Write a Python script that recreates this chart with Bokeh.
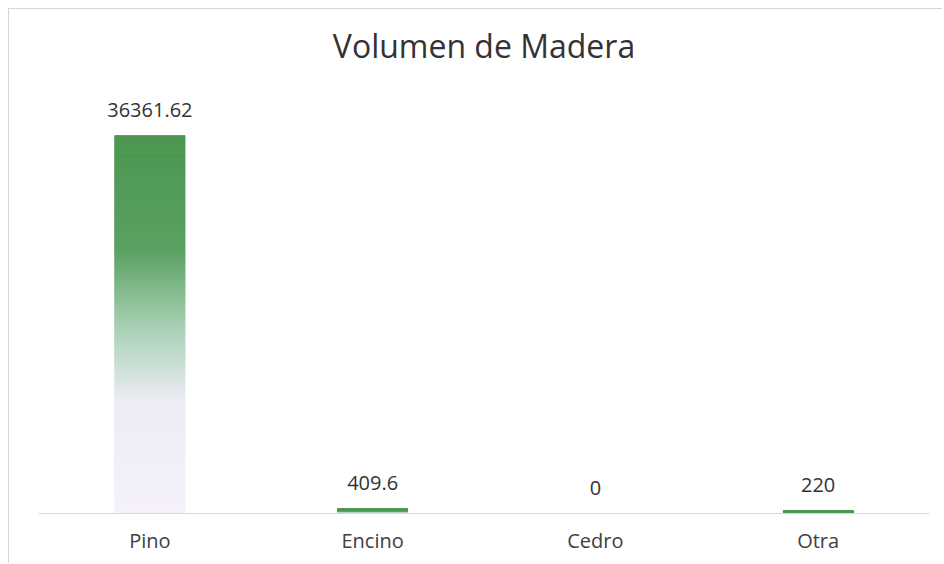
from bokeh.plotting import figure
from bokeh.models import ColumnDataSource, LabelSet, Range1d
from bokeh.core.properties import value
from bokeh.embed import file_html
from bokeh.resources import INLINE

# ---- data ----
categories = ["Pino", "Encino", "Cedro", "Otra"]
values = [36361.62, 409.6, 0, 220]
value_labels = ["36361.62", "409.6", "0", "220"]

# ---- gradient style (top green -> bottom pale lavender) ----
stops = [(0.0, (245, 241, 250)), (0.3, (236, 236, 244)), (0.5, (165, 207, 178)),
         (0.7, (90, 160, 97)), (1.0, (76, 151, 81))]

def grad(t):
    for (t0, c0), (t1, c1) in zip(stops[:-1], stops[1:]):
        if t0 <= t <= t1:
            f = (t - t0) / (t1 - t0)
            r, g, b = [int(round(a + (bb - a) * f)) for a, bb in zip(c0, c1)]
            return "#%02x%02x%02x" % (r, g, b)
    return "#%02x%02x%02x" % stops[-1][1]

N = 160
seg_x, seg_b, seg_t, seg_c = [], [], [], []
for cat, v in zip(categories, values):
    if v <= 0:
        continue
    for i in range(N):
        seg_x.append(cat)
        seg_b.append(v * i / N)
        seg_t.append(v * (i + 1) / N)
        seg_c.append(grad((i + 0.5) / N))

FONT = "Open Sans"

p = figure(x_range=categories, y_range=Range1d(0, max(values) * 1.175),
           width=934, height=555, output_backend="svg", toolbar_location=None,
           min_border_left=29, min_border_right=14, min_border_bottom=51,
           min_border_top=60)
p.styles = {"margin-left": "8px", "margin-top": "8px",
            "border-left": "1px solid #d6d6d6", "border-top": "1px solid #d6d6d6"}

p.vbar(x=seg_x, bottom=seg_b, top=seg_t, width=0.315, fill_color=seg_c,
       line_color=seg_c, line_width=1)

src = ColumnDataSource(dict(x=categories, y=values, t=value_labels))
p.add_layout(LabelSet(x="x", y="y", text="t", source=src, text_align="center",
                      text_baseline="bottom", y_offset=19, text_font=value(FONT),
                      text_font_size="20px", text_color="#333333"))

p.title.text = "Volumen de Madera"
p.title.align = "center"
p.title.text_font = FONT
p.title.text_font_size = "32px"
p.title.text_font_style = "normal"
p.title.text_color = "#333333"
p.title.standoff = 5

p.yaxis.visible = False
p.xgrid.visible = False
p.ygrid.visible = False
p.outline_line_color = None
p.xaxis.axis_line_color = "#d9d9d9"
p.xaxis.major_tick_line_color = None
p.xaxis.minor_tick_line_color = None
p.xaxis.major_tick_out = 0
p.xaxis.major_tick_in = 0
p.xaxis.major_label_standoff = 13
p.xaxis.major_label_text_font = FONT
p.xaxis.major_label_text_font_size = "20px"
p.xaxis.major_label_text_color = "#404040"

open("out.html", "w").write(file_html(p, INLINE))
